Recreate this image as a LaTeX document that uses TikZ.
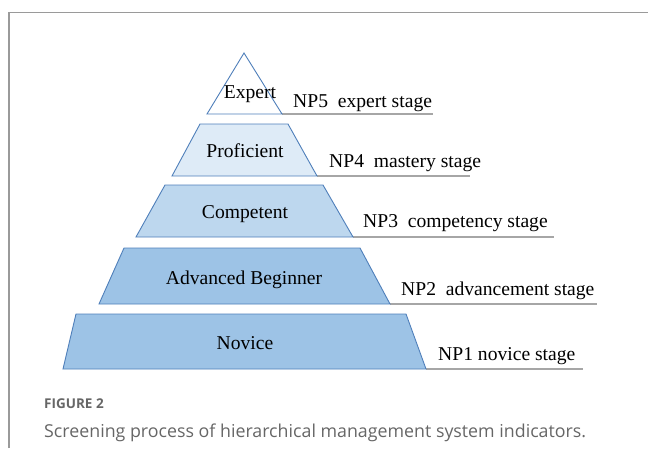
\documentclass[tikz,border=0pt]{standalone}
\usepackage{fontspec}
\setmainfont{Liberation Serif}
\newfontfamily\capfont{Open Sans}
\definecolor{edgeblue}{HTML}{4F7FBA}
\definecolor{tierA}{HTML}{FFFFFF}
\definecolor{tierB}{HTML}{DEEBF7}
\definecolor{tierC}{HTML}{BDD7EE}
\definecolor{tierD}{HTML}{9DC3E6}
\definecolor{rulegray}{HTML}{A6A6A6}
\definecolor{framegray}{HTML}{9A9A9A}
\definecolor{capgray}{HTML}{666666}
\begin{document}
\begin{tikzpicture}[x=1pt,y=-1pt,
  tier/.style={draw=edgeblue,line width=0.9pt,line join=miter},
  tiertext/.style={font=\fontsize{19.6}{22}\selectfont,anchor=base,inner sep=0pt},
  stagetext/.style={font=\fontsize{19.6}{22}\selectfont,anchor=base west,inner sep=0pt},
  stagerule/.style={draw=rulegray,line width=1.1pt}]
\useasboundingbox (0,0) rectangle (648,448);
% open frame: top and left edges
\draw[framegray,line width=1.3pt] (9,448) -- (9,12.5) -- (648,12.5);

% tier corners (bottom right) and rule ends
\coordinate (e5) at (282,114); \coordinate (r5) at (433,114);
\coordinate (e4) at (317,176); \coordinate (r4) at (470,176);
\coordinate (e3) at (353,237); \coordinate (r3) at (554,237);
\coordinate (e2) at (390,304); \coordinate (r2) at (597,304);
\coordinate (e1) at (426,369); \coordinate (r1) at (583,369);

% stage rules
\draw[stagerule] (e5) -- (r5);
\draw[stagerule] (e4) -- (r4);
\draw[stagerule] (e3) -- (r3);
\draw[stagerule] (e2) -- (r2);
\draw[stagerule] (e1) -- (r1);

% pyramid tiers
\draw[tier,fill=tierA] (207,114) -- (244,53) -- (e5) -- cycle;
\draw[tier,fill=tierB] (172,176) -- (200,124) -- (288,124) -- (e4) -- cycle;
\draw[tier,fill=tierC] (136,237) -- (165,185) -- (323,185) -- (e3) -- cycle;
\draw[tier,fill=tierD] (99,304) -- (124,248) -- (360,248) -- (e2) -- cycle;
\draw[tier,fill=tierD] (63,369) -- (76,314) -- (406,314) -- (e1) -- cycle;

% tier names
\node[tiertext] (t5) at (250,98) {Expert};
\node[tiertext] (t4) at (245,157) {Proficient};
\node[tiertext] (t3) at (245,218) {Competent};
\node[tiertext] (t2) at (244,284) {Advanced Beginner};
\node[tiertext] (t1) at (245,349) {Novice};

% stage names
\node[stagetext] (s5) at (293,107) {NP5\ \ expert stage};
\node[stagetext] (s4) at (329,167) {NP4\ \ mastery stage};
\node[stagetext] (s3) at (363,227) {NP3\ \ competency stage};
\node[stagetext] (s2) at (401,295) {NP2\ \ advancement stage};
\node[stagetext] (s1) at (438,360) {NP1 novice stage};

% caption
\node[font=\capfont\bfseries\fontsize{13.5}{16}\selectfont,text=capgray,anchor=base west,inner sep=0pt] (fig) at (44,408) {FIGURE 2};
\node[font=\capfont\fontsize{17.8}{20}\selectfont,text=capgray,anchor=base west,inner sep=0pt] (cap) at (44,437) {Screening process of hierarchical management system indicators.};
\end{tikzpicture}
\end{document}
